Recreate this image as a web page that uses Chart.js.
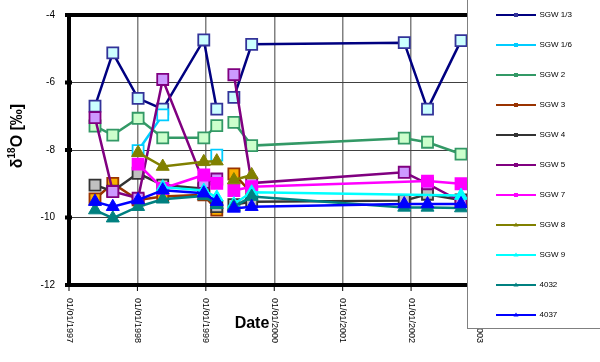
<!DOCTYPE html>
<html>
<head>
<meta charset="utf-8">
<script src="https://cdn.jsdelivr.net/npm/chart.js@4.4.1/dist/chart.umd.min.js"></script>
<style>
  html, body { margin: 0; padding: 0; background: #ffffff; }
  #wrap { width: 600px; height: 362px; }
</style>
</head>
<body>
<div id="wrap"><canvas id="c" width="600" height="362"></canvas></div>
<script>
// ---- data (decimal years; null = break in line, _ = no sample) ----
const _ = undefined;
const dates = [1997.38, 1997.64, 1998.01, 1998.37, 1998.97, 1999.16, 1999.29, 1999.41, 1999.67, 2001.90, 2002.24, 2002.73];
const seriesNames = ["SGW 1/3", "SGW 1/6", "SGW 2", "SGW 3", "SGW 4", "SGW 5", "SGW 7", "SGW 8", "SGW 9", "4032", "4037"];
const sgw13 = [-6.70, -5.12, -6.47, -6.79, -4.74, -6.79, null, -6.44, -4.87, -4.82, -6.79, -4.76];
const sgw16 = [_, _, -8.02, -6.96, null, -8.15, null, _, _, _, _, _];
const sgw2  = [-7.29, -7.56, -7.06, -7.64, -7.64, -7.28, null, -7.18, -7.87, -7.65, -7.77, -8.12];
const sgw3  = [-9.45, -8.99, -9.48, -9.38, -9.33, -9.78, null, -8.71, -9.28, _, _, _];
const sgw4  = [-9.04, -9.22, -8.69, -9.04, -9.15, -9.68, null, -9.62, -9.53, -9.50, -9.31, -9.48];
const sgw5  = [-7.04, -9.23, -9.43, -5.91, -8.96, -8.86, null, -5.77, -8.98, -8.66, -9.00, -9.53];
const sgw7  = [_, _, -8.42, -9.14, -8.74, -8.99, null, -9.20, -9.09, _, -8.92, -9.00];
const sgw8  = [_, _, -8.08, -8.49, -8.35, -8.33, null, -8.89, -8.74, _, _, _];
const sgw9  = [_, _, _, -9.10, -9.20, -9.40, null, -9.60, -9.25, _, _, -9.35];
const w4032 = [-9.78, -10.02, -9.68, -9.46, -9.36, -9.62, null, -9.68, -9.38, -9.70, -9.70, -9.72];
const w4037 = [-9.53, -9.68, -9.48, -9.19, -9.28, -9.53, null, -9.73, -9.68, -9.60, -9.60, -9.60];
const yTicks = [-4, -6, -8, -10, -12];
const xTickYears = [1997, 1998, 1999, 2000, 2001, 2002, 2003];
const xTickLabels = ["01/01/1997", "01/01/1998", "01/01/1999", "01/01/2000", "01/01/2001", "01/01/2002", "01/01/2003"];

// ---- styles ----
const styles = [
  { line: '#000080', fill: '#ccffff', border: '#333399', shape: 'rect' },
  { line: '#00ccff', fill: '#ffffff', border: '#00ccff', shape: 'rect' },
  { line: '#339966', fill: '#ccffcc', border: '#339966', shape: 'rect' },
  { line: '#993300', fill: '#f9b000', border: '#993300', shape: 'rect' },
  { line: '#333333', fill: '#c0c0c0', border: '#333333', shape: 'rect' },
  { line: '#800080', fill: '#cc99ff', border: '#800080', shape: 'rect' },
  { line: '#ff00ff', fill: '#ff00ff', border: '#ff00ff', shape: 'rect' },
  { line: '#808000', fill: '#808000', border: '#808000', shape: 'triangle' },
  { line: '#00ffff', fill: '#00ffff', border: '#00ffff', shape: 'triangle' },
  { line: '#008080', fill: '#008080', border: '#008080', shape: 'triangle' },
  { line: '#0000ff', fill: '#0000ff', border: '#0000ff', shape: 'triangle' }
];
const allSeries = [sgw13, sgw16, sgw2, sgw3, sgw4, sgw5, sgw7, sgw8, sgw9, w4032, w4037];

function toPoints(vals) {
  const pts = [];
  vals.forEach((v, i) => { if (v !== undefined) pts.push({ x: dates[i], y: v }); });
  return pts;
}

const datasets = allSeries.map((vals, i) => {
  const s = styles[i];
  return {
    label: seriesNames[i],
    data: toPoints(vals),
    showLine: true,
    spanGaps: false,
    borderColor: s.line,
    borderWidth: 2.5,
    pointStyle: s.shape,
    pointRadius: s.shape === 'rect' ? 7.8 : 7.5,
    pointHoverRadius: 7.8,
    pointBackgroundColor: s.fill,
    pointBorderColor: s.border,
    pointBorderWidth: s.shape === 'rect' ? 1.8 : 1,
    order: -i
  };
});

const FONT = '"Liberation Sans", Arial, sans-serif';

const decor = {
  id: 'decor',
  afterDraw(chart) {
    const ctx = chart.ctx;
    const a = chart.chartArea;
    const xs = chart.scales.x, ys = chart.scales.y;
    ctx.save();
    // frame
    ctx.fillStyle = '#000';
    ctx.fillRect(a.left - 2, a.top - 2, a.right - a.left + 4, 4);
    ctx.fillRect(a.left - 2, a.bottom - 2, a.right - a.left + 4, 4);
    ctx.fillRect(a.left - 2, a.top - 2, 4, a.bottom - a.top + 4);
    // y ticks + labels
    ctx.font = '10px ' + FONT;
    ctx.textAlign = 'right';
    ctx.textBaseline = 'middle';
    yTicks.forEach(v => {
      const py = ys.getPixelForValue(v);
      ctx.fillRect(a.left - 4, py - 2, 7, 4);
      ctx.fillText(String(v), 55, py);
    });
    // x ticks + labels (rotated clockwise)
    ctx.font = '9px ' + FONT;
    ctx.textAlign = 'left';
    xTickYears.forEach((yr, i) => {
      const px = xs.getPixelForValue(yr);
      ctx.fillRect(px - 0.5, a.bottom, 1, 6);
      ctx.save();
      ctx.translate(px, a.bottom + 13);
      ctx.rotate(Math.PI / 2);
      ctx.textBaseline = 'middle';
      ctx.fillText(xTickLabels[i], 0, 0);
      ctx.restore();
    });
    // x title
    ctx.font = 'bold 16px ' + FONT;
    ctx.textAlign = 'center';
    ctx.textBaseline = 'middle';
    ctx.fillText('Date', 252, 324);
    // y title: δ18O [‰]
    ctx.save();
    ctx.translate(16, 136);
    ctx.rotate(-Math.PI / 2);
    ctx.textBaseline = 'alphabetic';
    ctx.textAlign = 'left';
    const big = 'bold 16px ' + FONT, small = 'bold 10px ' + FONT;
    ctx.font = big; const w1 = ctx.measureText('\u03b4').width;
    ctx.font = small; const w2 = ctx.measureText('18').width;
    ctx.font = big; const w3 = ctx.measureText('O [\u2030]').width;
    let x0 = -(w1 + w2 + w3) / 2;
    ctx.font = big; ctx.fillText('\u03b4', x0, 6); x0 += w1;
    ctx.font = small; ctx.fillText('18', x0, -1); x0 += w2;
    ctx.font = big; ctx.fillText('O [\u2030]', x0, 6);
    ctx.restore();
    // legend box
    ctx.fillStyle = '#ffffff';
    ctx.fillRect(467, -2, 140, 330);
    ctx.strokeStyle = '#808080';
    ctx.lineWidth = 1;
    ctx.strokeRect(467.5, -2, 140, 330.5);
    ctx.font = '8px ' + FONT;
    ctx.textAlign = 'left';
    ctx.textBaseline = 'middle';
    chart.data.datasets.forEach((ds, i) => {
      const ly = 15 + 30 * i;
      const s = styles[i];
      ctx.strokeStyle = s.line;
      ctx.lineWidth = 2;
      ctx.beginPath(); ctx.moveTo(496, ly); ctx.lineTo(536, ly); ctx.stroke();
      ctx.fillStyle = s.border;
      if (s.shape === 'rect') {
        ctx.fillRect(514, ly - 2, 4, 4);
      } else {
        ctx.beginPath(); ctx.moveTo(516, ly - 2.5); ctx.lineTo(518.5, ly + 1.5); ctx.lineTo(513.5, ly + 1.5); ctx.closePath(); ctx.fill();
      }
      ctx.fillStyle = '#000';
      ctx.fillText(ds.label, 539.5, ly);
    });
    ctx.restore();
  }
};

new Chart(document.getElementById('c'), {
  type: 'scatter',
  data: { datasets },
  options: {
    responsive: false,
    animation: false,
    events: [],
    layout: { padding: { left: 69, top: 15, right: 120.5, bottom: 77 } },
    plugins: { legend: { display: false }, tooltip: { enabled: false } },
    scales: {
      x: {
        type: 'linear', min: 1997, max: 2003,
        ticks: { display: false, stepSize: 1 },
        grid: { color: '#808080', lineWidth: 1.5, drawTicks: false },
        border: { display: false }
      },
      y: {
        type: 'linear', min: -12, max: -4,
        ticks: { display: false, stepSize: 2 },
        grid: { color: '#404040', lineWidth: 1, drawTicks: false },
        border: { display: false }
      }
    }
  },
  plugins: [decor]
});
</script>
</body>
</html>
